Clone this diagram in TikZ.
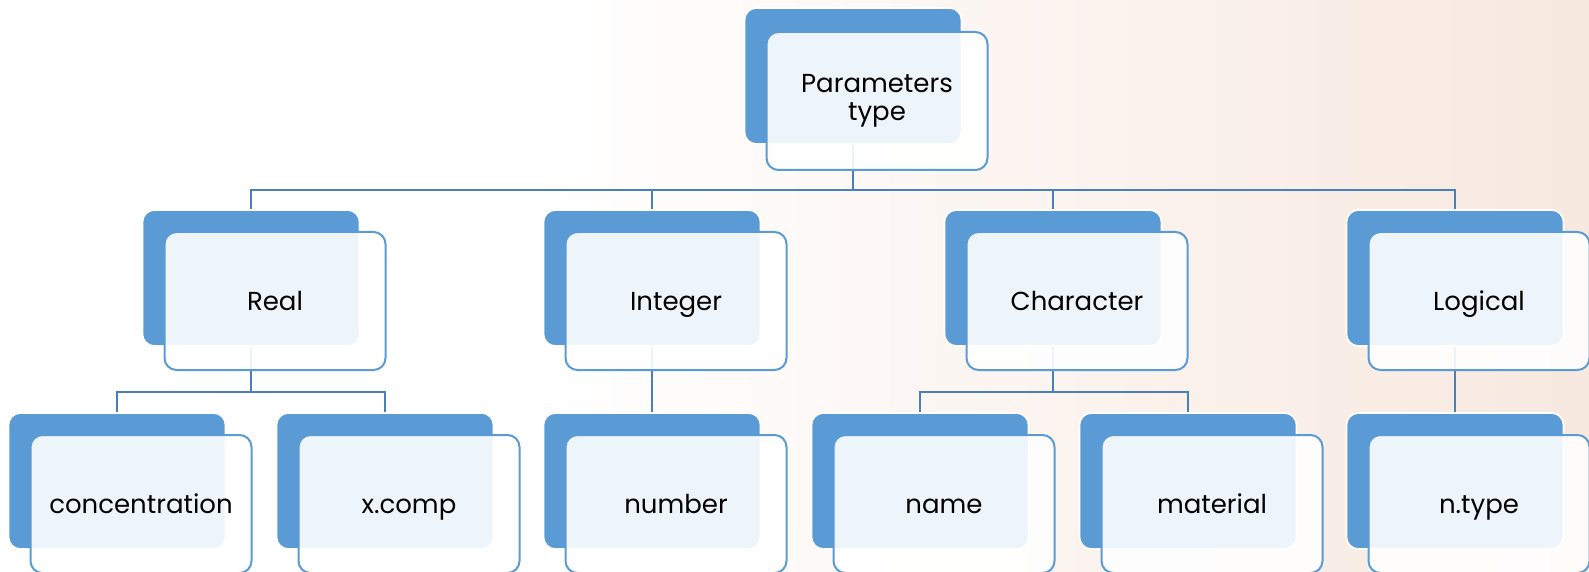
\documentclass[tikz,border=0pt]{standalone}
\usepackage{fontspec}
\setmainfont{Poppins}
\usetikzlibrary{positioning}

\definecolor{boxblue}{RGB}{91,155,213}
\definecolor{lineblue}{RGB}{74,128,186}
\definecolor{bgpeach}{RGB}{242,216,200}
\pgfdeclarehorizontalshading{bgshade}{100bp}{color(0bp)=(white); color(42bp)=(white); color(62bp)=(bgpeach!35!white); color(85bp)=(bgpeach!75!white); color(100bp)=(bgpeach)}

\begin{document}
\begin{tikzpicture}[
    x=0.5pt, y=-0.5pt,
    back/.style={rectangle, rounded corners=6pt, minimum width=108.5pt, minimum height=68pt, draw=white, line width=0.8pt, fill=boxblue},
    front/.style={rectangle, rounded corners=6pt, minimum width=110.5pt, minimum height=69pt, draw=boxblue, line width=1pt, fill=white, fill opacity=0.9, text opacity=1, text=black, align=center, font=\fontsize{13pt}{14pt}\selectfont, xshift=12pt, yshift=-11.5pt},
    oneline/.style={front, text height=9pt, text depth=0pt},
    conn/.style={draw=lineblue, line width=1.3pt},
]

    % page and background
    \clip (0,0) rectangle (1589,572);
    \shade[shading=bgshade] (0,0) rectangle (1589,572);

    % back plates
    \node (ptypeb) [back] at (853,76) {};
    \node (realb) [back] at (251,278) {};
    \node (integerb) [back] at (652,278) {};
    \node (characterb) [back] at (1053,278) {};
    \node (logicalb) [back] at (1455,278) {};
    \node (concb) [back] at (117,481) {};
    \node (xcompb) [back] at (385,481) {};
    \node (numberb) [back] at (652,481) {};
    \node (nameb) [back] at (920,481) {};
    \node (materialb) [back] at (1188,481) {};
    \node (ntypeb) [back] at (1455,481) {};

    % connectors
    \draw [conn] (ptypeb.south) -- (ptypeb.south |- 0,190) -| (realb.north);
    \draw [conn] (ptypeb.south) -- (ptypeb.south |- 0,190) -| (integerb.north);
    \draw [conn] (ptypeb.south) -- (ptypeb.south |- 0,190) -| (characterb.north);
    \draw [conn] (ptypeb.south) -- (ptypeb.south |- 0,190) -| (logicalb.north);
    \draw [conn] (realb.south) -- (realb.south |- 0,392) -| (concb.north);
    \draw [conn] (realb.south) -- (realb.south |- 0,392) -| (xcompb.north);
    \draw [conn] (integerb.south) -- (numberb.north);
    \draw [conn] (characterb.south) -- (characterb.south |- 0,392) -| (nameb.north);
    \draw [conn] (characterb.south) -- (characterb.south |- 0,392) -| (materialb.north);
    \draw [conn] (logicalb.south) -- (ntypeb.north);

    % front cards
    \node (ptype) [front, yshift=-1pt] at (ptypeb) {Parameters\\type};
    \node (real) [oneline] at (realb) {Real};
    \node (integer) [oneline] at (integerb) {Integer};
    \node (character) [oneline] at (characterb) {Character};
    \node (logical) [oneline] at (logicalb) {Logical};
    \node (conc) [oneline] at (concb) {concentration};
    \node (xcomp) [oneline] at (xcompb) {x.comp};
    \node (number) [oneline] at (numberb) {number};
    \node (name) [oneline] at (nameb) {name};
    \node (material) [oneline] at (materialb) {material};
    \node (ntype) [oneline] at (ntypeb) {n.type};

\end{tikzpicture}
\end{document}
